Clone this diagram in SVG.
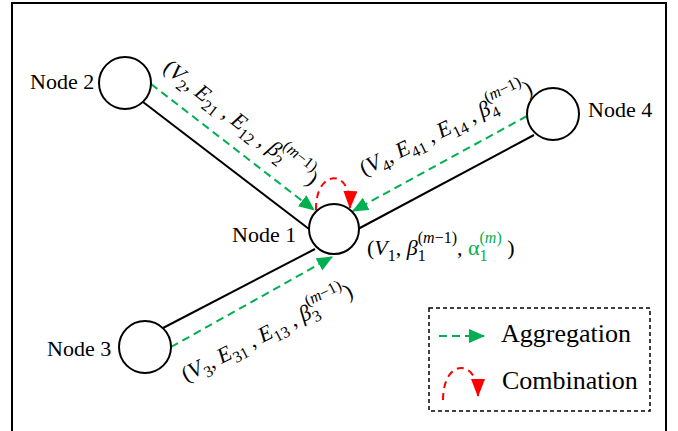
<svg xmlns="http://www.w3.org/2000/svg" width="678" height="431" viewBox="0 0 678 431">
<style>
.lbl{font-family:"Liberation Serif","Times New Roman",serif;font-size:22px;fill:#000}
.leg{font-family:"Liberation Serif","Times New Roman",serif;font-size:26px;fill:#000}
.m{font-family:"Liberation Serif","Times New Roman",serif;font-size:22px;fill:#000}
.i{font-style:italic}
.s{font-size:16px}
.node{fill:#fff;stroke:#000;stroke-width:2}
.edge{stroke:#000;stroke-width:2;fill:none}
.agg{stroke:#00B050;stroke-width:2;stroke-dasharray:8 5;fill:none;marker-end:url(#ga)}
.comb{stroke:#FF0000;stroke-width:2;stroke-dasharray:7 5;fill:none;marker-end:url(#ra)}
</style>
<defs>
<marker id="ga" markerUnits="userSpaceOnUse" markerWidth="18" markerHeight="16" refX="15" refY="7" orient="auto">
<path d="M0,0 L16,7 L0,14 z" fill="#00B050"/>
</marker>
<marker id="ra" markerUnits="userSpaceOnUse" markerWidth="20" markerHeight="16" refX="17" refY="7" orient="auto">
<path d="M0,0 L18,7 L0,14 z" fill="#FF0000"/>
</marker>
</defs>
<rect x="0" y="0" width="678" height="431" fill="#fff"/>
<rect x="12" y="3" width="654" height="440" fill="none" stroke="#000" stroke-width="2"/>

<g id="connectors">
<line class="edge" x1="143" y1="102" x2="309" y2="229"/>
<line class="edge" x1="534" y1="135" x2="358" y2="229"/>
<line class="edge" x1="163" y1="328" x2="315" y2="249"/>
<path class="agg" d="M151,84 L314,210"/>
<path class="agg" d="M527,116 L353,211"/>
<path class="agg" d="M171,347 L332,257"/>
<path class="comb" d="M316,210 C315,170 351,166 350,208"/>
</g>

<g id="node1">
<circle class="node" cx="334" cy="229" r="25"/>
<text class="lbl" x="232" y="242">Node 1</text>
<text class="m" x="367" y="255">(<tspan class="i">V</tspan><tspan class="s" dy="6">1</tspan><tspan dy="-6">, </tspan><tspan class="i">β</tspan><tspan class="s" dy="6">1</tspan><tspan class="s" dx="-8" dy="-18">(<tspan class="i">m</tspan>−1)</tspan><tspan dy="12">, </tspan><tspan fill="#00B050">α</tspan><tspan class="s" fill="#00B050" dy="6">1</tspan><tspan class="s" fill="#00B050" dx="-8" dy="-18">(<tspan class="i">m</tspan>)</tspan><tspan dy="12">  )</tspan></text>
</g>

<g id="node2">
<circle class="node" cx="125" cy="83" r="26"/>
<text class="lbl" x="30" y="89">Node 2</text>
<text class="m" transform="translate(162,70) rotate(38)">(<tspan class="i">V</tspan><tspan class="s" dy="6">2</tspan><tspan dy="-6">, </tspan><tspan class="i">E</tspan><tspan class="s" dy="6">21</tspan><tspan dy="-6"> , </tspan><tspan class="i">E</tspan><tspan class="s" dy="6">12</tspan><tspan dy="-6"> , </tspan><tspan class="i">β</tspan><tspan class="s" dy="6">2</tspan><tspan class="s" dx="-8" dy="-18">(<tspan class="i">m</tspan>−1)</tspan><tspan dy="12">)</tspan></text>
</g>

<g id="node3">
<circle class="node" cx="145" cy="347" r="26"/>
<text class="lbl" x="47" y="356">Node 3</text>
<text class="m" transform="translate(186,382) rotate(-27)">(<tspan class="i">V</tspan><tspan class="s" dy="6">3</tspan><tspan dy="-6">, </tspan><tspan class="i">E</tspan><tspan class="s" dy="6">31</tspan><tspan dy="-6"> , </tspan><tspan class="i">E</tspan><tspan class="s" dy="6">13</tspan><tspan dy="-6"> , </tspan><tspan class="i">β</tspan><tspan class="s" dy="6">3</tspan><tspan class="s" dx="-8" dy="-18">(<tspan class="i">m</tspan>−1)</tspan><tspan dy="12">)</tspan></text>
</g>

<g id="node4">
<circle class="node" cx="553" cy="114" r="26"/>
<text class="lbl" x="588" y="117">Node 4</text>
<text class="m" transform="translate(364,176) rotate(-26)">(<tspan class="i">V</tspan><tspan class="s" dy="6">4</tspan><tspan dy="-6">, </tspan><tspan class="i">E</tspan><tspan class="s" dy="6">41</tspan><tspan dy="-6"> , </tspan><tspan class="i">E</tspan><tspan class="s" dy="6">14</tspan><tspan dy="-6"> , </tspan><tspan class="i">β</tspan><tspan class="s" dy="6">4</tspan><tspan class="s" dx="-8" dy="-18">(<tspan class="i">m</tspan>−1)</tspan><tspan dy="12">)</tspan></text>
</g>

<g id="legend">
<rect x="429" y="308" width="221" height="103" fill="none" stroke="#000" stroke-width="1.5" stroke-dasharray="4 3"/>
<path class="agg" d="M439,336 L484,336"/>
<text class="leg" x="501" y="342">Aggregation</text>
<path class="comb" d="M443,400 C443,358 478,358 478,396"/>
<text class="leg" x="502" y="389">Combination</text>
</g>
</svg>
